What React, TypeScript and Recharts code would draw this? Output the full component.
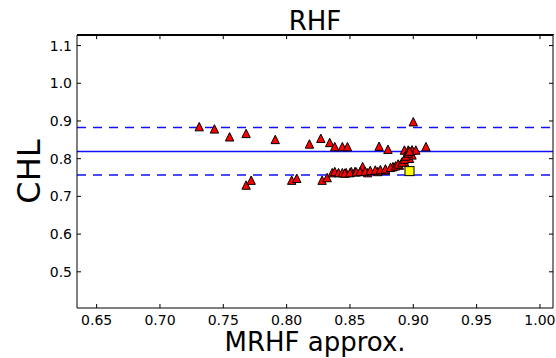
import React from 'react';
import { ScatterChart, Scatter, XAxis, YAxis, ReferenceLine, CartesianGrid } from 'recharts';

const FONT = '"DejaVu Sans", sans-serif';

const xTicks = [0.65, 0.7, 0.75, 0.8, 0.85, 0.9, 0.95, 1.0];
const yTicks = [0.5, 0.6, 0.7, 0.8, 0.9, 1.0, 1.1];
const xDomain = [0.6345, 1.0103];
const yDomain = [0.404, 1.128];

// red triangles: MRHF approx. vs CHL
const triX = [
  0.731, 0.743, 0.755, 0.768, 0.791, 0.818, 0.827, 0.834, 0.838, 0.844, 0.848, 0.873, 0.880, 0.899, 0.910, 0.900,
  0.893, 0.896, 0.899, 0.902,
  0.768, 0.772, 0.804, 0.808, 0.828, 0.832, 0.836, 0.838, 0.841, 0.844, 0.847, 0.851, 0.854, 0.860, 0.864, 0.872,
  0.878, 0.884, 0.889, 0.893, 0.897, 0.899,
  0.846, 0.850, 0.855, 0.858, 0.862, 0.866, 0.870, 0.874, 0.878, 0.882, 0.886, 0.888, 0.891, 0.893, 0.894, 0.896, 0.897,
];
const triY = [
  0.885, 0.879, 0.858, 0.867, 0.851, 0.839, 0.854, 0.843, 0.832, 0.832, 0.832, 0.833, 0.825, 0.823, 0.832, 0.898,
  0.823, 0.823, 0.823, 0.823,
  0.730, 0.743, 0.743, 0.748, 0.743, 0.750, 0.763, 0.766, 0.763, 0.763, 0.763, 0.766, 0.766, 0.779, 0.763, 0.766,
  0.770, 0.779, 0.783, 0.792, 0.801, 0.810,
  0.762, 0.763, 0.765, 0.766, 0.767, 0.769, 0.770, 0.771, 0.773, 0.777, 0.781, 0.786, 0.791, 0.799, 0.807, 0.815, 0.820,
];

// yellow square reference point
const refX = [0.897];
const refY = [0.767];

const meanLine = 0.819;
const upperLine = 0.8825;
const lowerLine = 0.757;

const triData = triX.map((x, i) => ({ x, y: triY[i] }));
const refData = refX.map((x, i) => ({ x, y: refY[i] }));

const Triangle = (props: any) => {
  const { cx, cy } = props;
  const h = 4.2;
  return (
    <polygon
      points={`${cx},${cy - h} ${cx - h},${cy + h} ${cx + h},${cy + h}`}
      fill="#ff0000"
      stroke="#000"
      strokeWidth={1}
    />
  );
};

const Square = (props: any) => {
  const { cx, cy } = props;
  return <rect x={cx - 4.5} y={cy - 4.5} width={9} height={9} fill="#ffff00" stroke="#000" strokeWidth={1} />;
};

const Empty = () => <g />;

const tickStyle = { fill: '#000', fontSize: 14, fontFamily: FONT };

export default function App() {
  return (
    <div style={{ position: 'absolute', left: 0, top: 0, width: 556, height: 358, background: '#fff' }}>
      <div
        style={{
          position: 'absolute',
          left: 77,
          top: 8,
          width: 476,
          height: 24,
          textAlign: 'center',
          fontFamily: FONT,
          fontSize: 26,
          lineHeight: 1,
          color: '#000',
        }}
      >
        RHF
      </div>
      <ScatterChart width={556} height={358} margin={{ top: 35, right: 0, bottom: 0, left: 0 }}>
        <CartesianGrid
          vertical={false}
          horizontalCoordinatesGenerator={(p: any) => [p.offset.top + 0.5]}
          stroke="#000"
          strokeWidth={1}
        />
        <XAxis
          dataKey="x"
          type="number"
          domain={xDomain}
          allowDataOverflow
          ticks={xTicks}
          tickFormatter={(v: number) => v.toFixed(2)}
          height={50}
          tickSize={-4}
          tickMargin={11}
          tick={tickStyle}
          axisLine={{ stroke: '#000' }}
          tickLine={{ stroke: '#000' }}
          label={{
            content: (p: any) => (
              <text
                x={p.viewBox.x + p.viewBox.width / 2}
                y={p.viewBox.y + 43}
                textAnchor="middle"
                fontSize={26}
                fontFamily={FONT}
                fill="#000"
              >
                MRHF approx.
              </text>
            ),
          }}
        />
        <YAxis
          dataKey="y"
          type="number"
          domain={yDomain}
          allowDataOverflow
          ticks={yTicks}
          tickFormatter={(v: number) => v.toFixed(1)}
          width={77}
          tickSize={-4}
          tickMargin={9}
          tick={tickStyle}
          axisLine={{ stroke: '#000' }}
          tickLine={{ stroke: '#000' }}
          label={{
            content: (p: any) => {
              const x = p.viewBox.x + 40;
              const y = p.viewBox.y + p.viewBox.height / 2;
              return (
                <text
                  x={x}
                  y={y}
                  transform={`rotate(-90, ${x}, ${y})`}
                  textAnchor="middle"
                  fontSize={32}
                  fontFamily={FONT}
                  fill="#000"
                >
                  CHL
                </text>
              );
            },
          }}
        />
        <YAxis
          yAxisId="right"
          orientation="right"
          dataKey="y"
          type="number"
          domain={yDomain}
          allowDataOverflow
          ticks={yTicks}
          width={3}
          tickSize={-4}
          tick={Empty}
          axisLine={{ stroke: '#000' }}
          tickLine={{ stroke: '#000' }}
        />
        {xTicks.map((t) => (
          <ReferenceLine
            key={t}
            ifOverflow="visible"
            segment={[
              { x: t, y: yDomain[1] - 0.0005 },
              { x: t, y: yDomain[1] - 0.011 },
            ]}
            stroke="#000"
            strokeWidth={1}
          />
        ))}
        <ReferenceLine y={lowerLine} stroke="#1010ff" strokeWidth={1.5} strokeDasharray="9 7" />
        <ReferenceLine y={upperLine} stroke="#1010ff" strokeWidth={1.5} strokeDasharray="9 7" />
        <ReferenceLine y={meanLine} stroke="#1010ff" strokeWidth={1.5} />
        <Scatter data={triData} yAxisId="right" shape={Empty} isAnimationActive={false} />
        <Scatter data={triData} shape={Triangle} isAnimationActive={false} />
        <Scatter data={refData} shape={Square} isAnimationActive={false} />
      </ScatterChart>
      {/* top edge of the axes frame */}
      <div
        style={{
          position: 'absolute',
          left: 77,
          top: 34,
          width: 477,
          height: 0,
          borderTop: '1px solid #000',
          pointerEvents: 'none',
        }}
      />
    </div>
  );
}
